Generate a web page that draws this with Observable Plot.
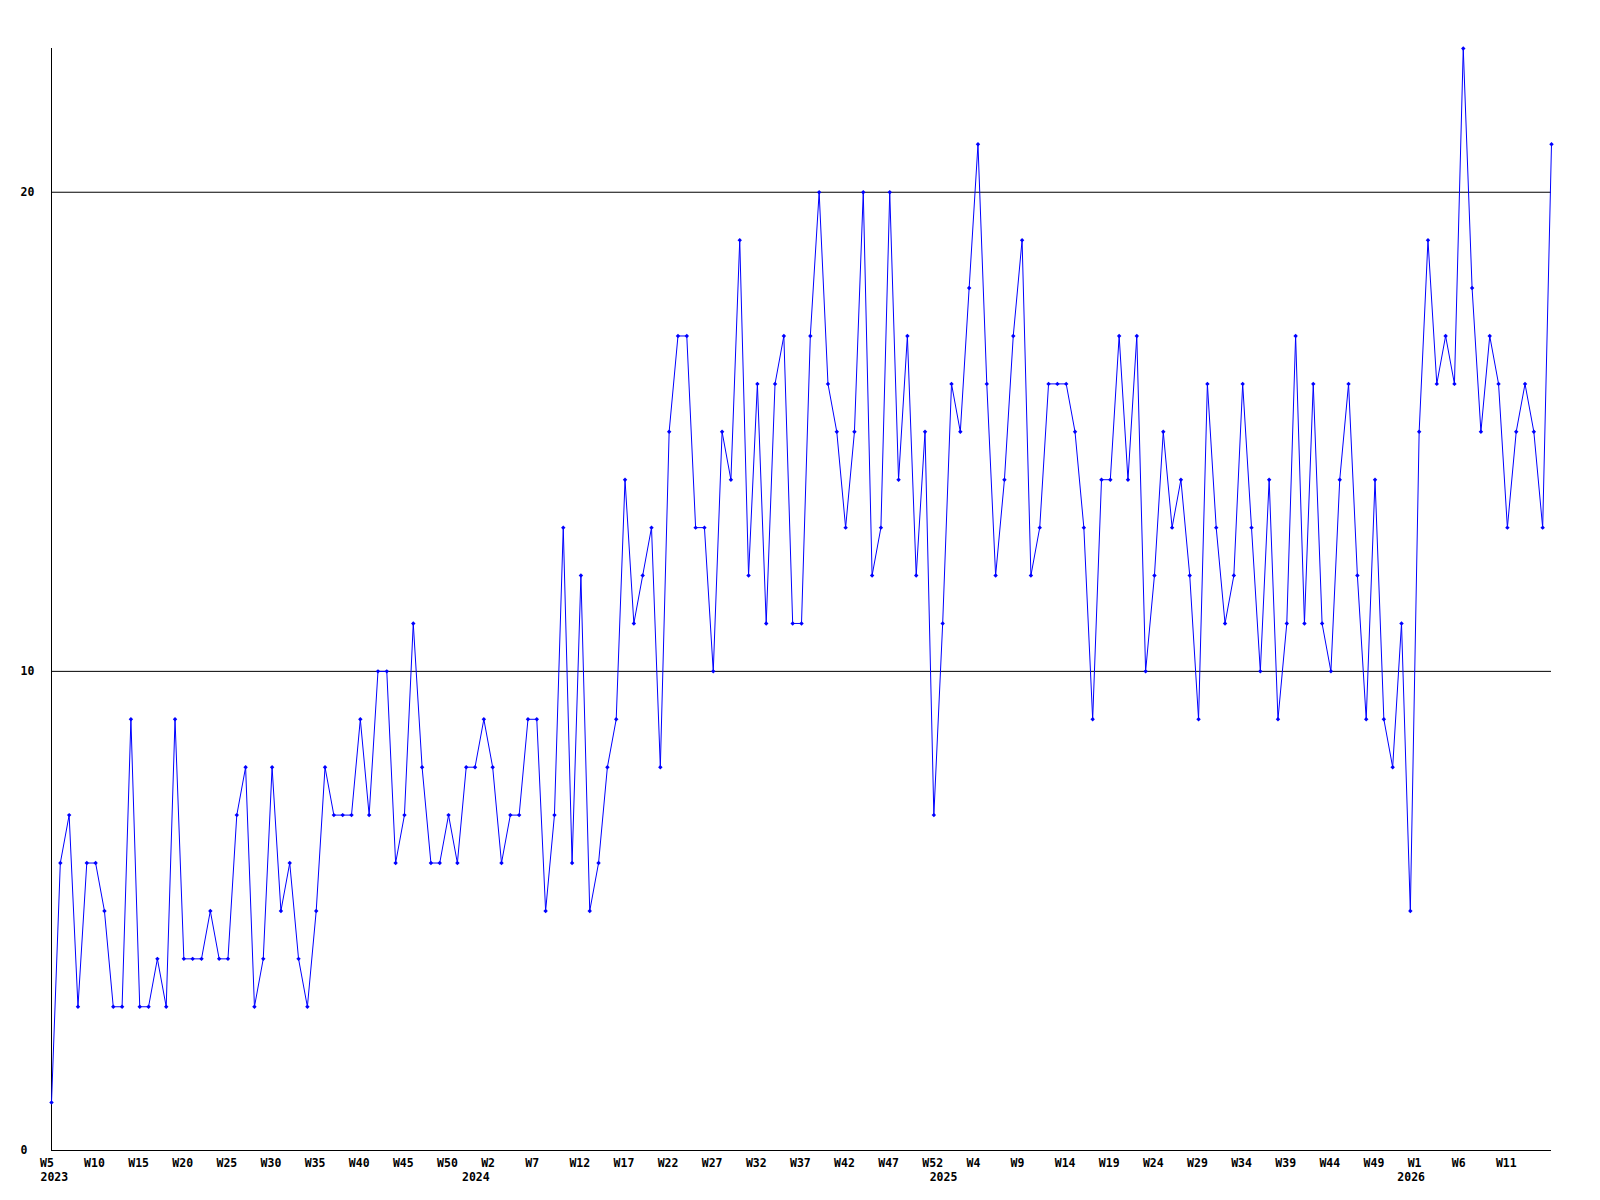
<!DOCTYPE html>
<html><head><meta charset="utf-8">
<script src="https://cdn.jsdelivr.net/npm/d3@7"></script>
<script src="https://cdn.jsdelivr.net/npm/@observablehq/plot@0.6"></script>
<style>
html,body{margin:0;padding:0;background:#fff;}
#chart{width:1600px;height:1200px;}
</style></head><body><div id="chart"></div>
<script>
// Weekly values, 2023 W5 onwards (one per week)
const values = [
  1,6,7,3,6,6,5,3,3,9,3,3,4,3,9,4,4,4,5,4,4,7,
  8,3,4,8,5,6,4,3,5,8,7,7,7,9,7,10,10,6,7,11,8,
  6,6,7,6,8,8,9,8,6,7,7,9,9,5,7,13,6,12,5,6,8,
  9,14,11,12,13,8,15,17,17,13,13,10,15,14,19,12,16,11,16,17,11,
  11,17,20,16,15,13,15,20,12,13,20,14,17,12,15,7,11,16,15,18,21,
  16,12,14,17,19,12,13,16,16,16,15,13,9,14,14,17,14,17,10,12,15,
  13,14,12,9,16,13,11,12,16,13,10,14,9,11,17,11,16,11,10,14,16,
  12,9,14,9,8,11,5,15,19,16,17,16,23,18,15,17,16,13,15,16,15,13,21
];
// Week tick labels, one every 5 weeks
const weekTickLabels = [
  "W5","W10","W15","W20","W25","W30","W35","W40","W45","W50",
  "W2","W7","W12","W17","W22","W27","W32","W37","W42","W47","W52",
  "W4","W9","W14","W19","W24","W29","W34","W39","W44","W49",
  "W1","W6","W11"
];
const tickStep = 5;
const yearLabels = ["2023","2024","2025","2026"];
const yearWeekIndex = [0,49,102,155];
const yTicks = [0,10,20];

const data = values.map((v, i) => ({i, v}));
const tickIdx = weekTickLabels.map((_, k) => k * tickStep);
const years = yearLabels.map((label, k) => ({label, i: yearWeekIndex[k]}));

const plot = Plot.plot({
  width: 1600,
  height: 1200,
  marginLeft: 51,
  marginRight: 49,
  marginTop: 48,
  marginBottom: 50,
  style: {fontFamily: "'DejaVu Sans Mono', monospace", fontSize: "11.5px", fontWeight: "bold", background: "#fff", color: "#000"},
  x: {type: "linear", domain: [0, values.length - 1]},
  y: {domain: [0, 23]},
  marks: [
    Plot.ruleY(yTicks, {stroke: "#000", strokeWidth: 1}),
    Plot.ruleX([0], {stroke: "#000", strokeWidth: 1}),
    Plot.line(data, {x: "i", y: "v", stroke: "#0000ff", strokeWidth: 1}),
    Plot.dot(data, {x: "i", y: "v", symbol: "diamond2", r: 2, fill: "#0000ff", stroke: "none"}),
    Plot.axisY({ticks: yTicks, tickSize: 0, tickPadding: 31, textAnchor: "start", label: null, tickFormat: d => String(d)}),
    Plot.axisX({ticks: tickIdx, tickFormat: d => weekTickLabels[Math.round(d / tickStep)], tickSize: 0, tickPadding: 8, textAnchor: "start", dx: -11.5, label: null}),
    Plot.text(years.slice(0, 1), {x: "i", y: () => 0, text: "label", textAnchor: "start", dx: -11, dy: 27, fill: "#000", clip: false}),
    Plot.text(years.slice(1), {x: "i", y: () => 0, text: "label", textAnchor: "middle", dx: -8, dy: 27, fill: "#000", clip: false})
  ]
});
document.getElementById("chart").appendChild(plot);
</script>
</body></html>
